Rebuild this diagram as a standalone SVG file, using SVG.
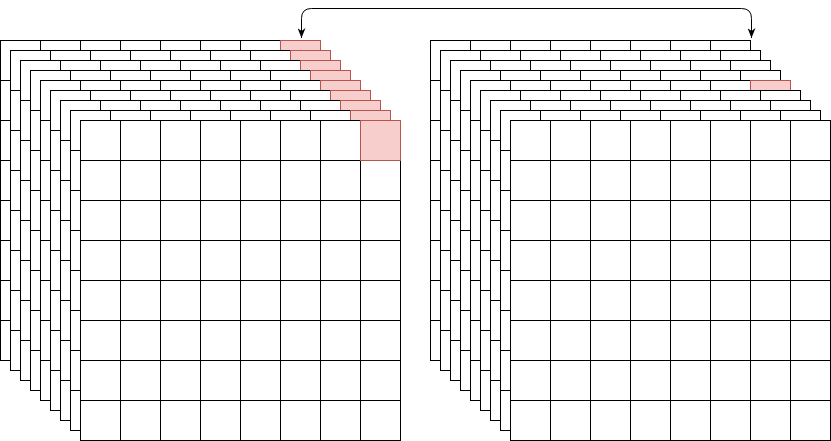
<svg xmlns="http://www.w3.org/2000/svg" xmlns:xlink="http://www.w3.org/1999/xlink" width="831" height="441" viewBox="0 0 831 441">
<style>
.cell{fill:#ffffff;stroke:#000000;stroke-width:1}
.gl{fill:none;stroke:#000000;stroke-width:1}
.red{fill:#f8cecc;stroke:#b85450;stroke-width:1}
.conn{fill:none;stroke:#000000;stroke-width:1}
</style>
<defs>
<g id="grid">
<rect class="cell" x="0" y="0" width="320" height="320"/>
<path class="gl" d="M40 0V320M80 0V320M120 0V320M160 0V320M200 0V320M240 0V320M280 0V320M0 40H320M0 80H320M0 120H320M0 160H320M0 200H320M0 240H320M0 280H320"/>
</g>
<marker id="arr" viewBox="0 0 10 8" refX="10" refY="4" markerWidth="10" markerHeight="8" markerUnits="userSpaceOnUse" orient="auto-start-reverse">
<path d="M0,0 L10,4 L0,8 L3,4 Z" fill="#000"/>
</marker>
</defs>
<rect width="831" height="441" fill="#ffffff"/>
<g id="left-stack">
<g id="L0" transform="translate(0.5,40.5)"><use xlink:href="#grid"/><rect class="red" x="280" y="0" width="40" height="40"/></g>
<g id="L1" transform="translate(10.5,50.5)"><use xlink:href="#grid"/><rect class="red" x="280" y="0" width="40" height="40"/></g>
<g id="L2" transform="translate(20.5,60.5)"><use xlink:href="#grid"/><rect class="red" x="280" y="0" width="40" height="40"/></g>
<g id="L3" transform="translate(30.5,70.5)"><use xlink:href="#grid"/><rect class="red" x="280" y="0" width="40" height="40"/></g>
<g id="L4" transform="translate(40.5,80.5)"><use xlink:href="#grid"/><rect class="red" x="280" y="0" width="40" height="40"/></g>
<g id="L5" transform="translate(50.5,90.5)"><use xlink:href="#grid"/><rect class="red" x="280" y="0" width="40" height="40"/></g>
<g id="L6" transform="translate(60.5,100.5)"><use xlink:href="#grid"/><rect class="red" x="280" y="0" width="40" height="40"/></g>
<g id="L7" transform="translate(70.5,110.5)"><use xlink:href="#grid"/><rect class="red" x="280" y="0" width="40" height="40"/></g>
<g id="L8" transform="translate(80.5,120.5)"><use xlink:href="#grid"/><rect class="red" x="280" y="0" width="40" height="40"/></g>
</g>
<g id="right-stack">
<g id="R0" transform="translate(430.5,40.5)"><use xlink:href="#grid"/></g>
<g id="R1" transform="translate(440.5,50.5)"><use xlink:href="#grid"/></g>
<g id="R2" transform="translate(450.5,60.5)"><use xlink:href="#grid"/></g>
<g id="R3" transform="translate(460.5,70.5)"><use xlink:href="#grid"/></g>
<g id="R4" transform="translate(470.5,80.5)"><use xlink:href="#grid"/><rect class="red" x="280" y="0" width="40" height="40"/></g>
<g id="R5" transform="translate(480.5,90.5)"><use xlink:href="#grid"/></g>
<g id="R6" transform="translate(490.5,100.5)"><use xlink:href="#grid"/></g>
<g id="R7" transform="translate(500.5,110.5)"><use xlink:href="#grid"/></g>
<g id="R8" transform="translate(510.5,120.5)"><use xlink:href="#grid"/></g>
</g>
<g id="connectors">
<path class="conn" d="M301.5 38 L301.5 18.5 Q301.5 8.5 311.5 8.5 L741.5 8.5 Q751.5 8.5 751.5 18.5 L751.5 38" marker-start="url(#arr)" marker-end="url(#arr)"/>
</g>
</svg>
